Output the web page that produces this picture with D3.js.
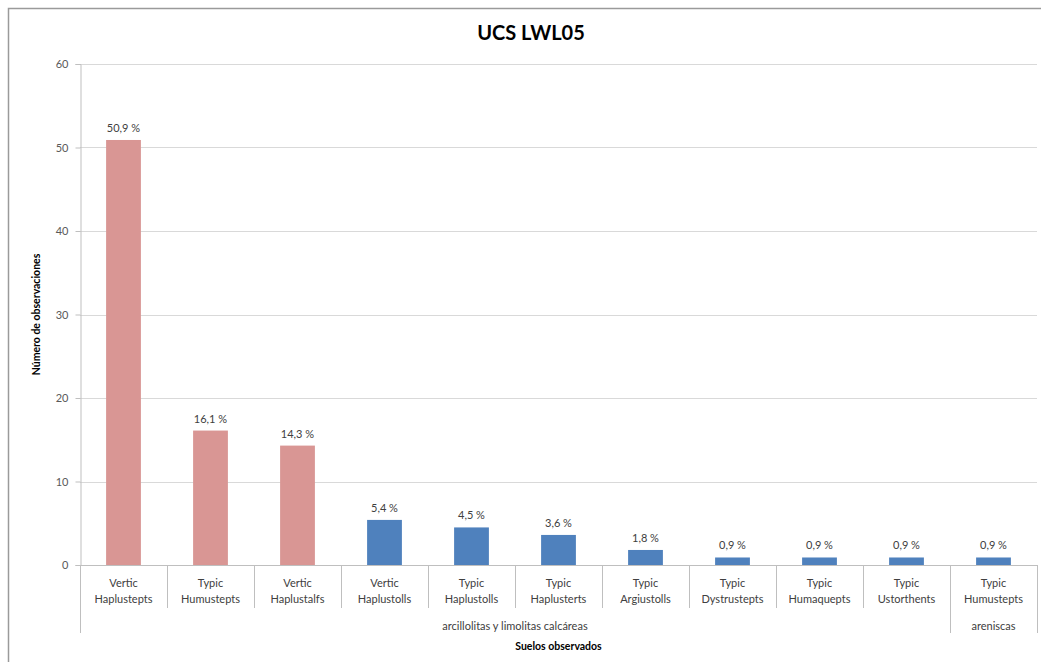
<!DOCTYPE html>
<html>
<head>
<meta charset="utf-8">
<script src="https://cdn.jsdelivr.net/npm/d3@7"></script>
<style>
  html, body { margin: 0; padding: 0; background: #fff; }
  svg { display: block; font-family: Lato, "Open Sans", sans-serif; }
</style>
</head>
<body>
<svg id="chart" width="1041" height="662"></svg>
<script>
// ---- data ----
const title = "UCS LWL05";
const categories = [
  "Vertic Haplustepts", "Typic Humustepts", "Vertic Haplustalfs", "Vertic Haplustolls",
  "Typic Haplustolls", "Typic Haplusterts", "Typic Argiustolls", "Typic Dystrustepts",
  "Typic Humaquepts", "Typic Ustorthents", "Typic Humustepts"
];
const values = [50.9, 16.1, 14.3, 5.4, 4.5, 3.6, 1.8, 0.9, 0.9, 0.9, 0.9];
const highlighted = [true, true, true, false, false, false, false, false, false, false, false];
const groupNames = ["arcillolitas y limolitas calcáreas", "areniscas"];
const categoryGroup = [0, 0, 0, 0, 0, 0, 0, 0, 0, 0, 1];
const yTicks = [0, 10, 20, 30, 40, 50, 60];
const yTitle = "Número de observaciones";
const xTitle = "Suelos observados";

(function () {
// ---- layout ----
const svg = d3.select("#chart");
const pLeft = 80, pRight = 1037, pTop = 64, pBottom = 565;
const idx = d3.range(categories.length);
const x = d3.scaleBand().domain(idx).range([pLeft, pRight]).paddingInner(0.6).paddingOuter(0.3);
const xb = d3.scaleBand().domain(idx).range([pLeft, pRight]).padding(0);
const y = d3.scaleLinear().domain([0, 60]).range([pBottom, pTop]);

// outer border
svg.append("rect").attr("x", 8.5).attr("y", 8.5).attr("width", 1040).attr("height", 660)
  .attr("fill", "#fff").attr("stroke", "#9a9a9a").attr("stroke-width", 1.5);

// title
svg.append("text").attr("x", 531).attr("y", 40).attr("text-anchor", "middle")
  .attr("font-size", 20).attr("font-weight", "bold").attr("fill", "#000").text(title);

// gridlines
svg.append("g").selectAll("line").data(yTicks.filter(d => d > 0)).join("line")
  .attr("x1", pLeft).attr("x2", pRight)
  .attr("y1", d => Math.round(y(d)) + 0.5).attr("y2", d => Math.round(y(d)) + 0.5)
  .attr("stroke", "#d9d9d9").attr("stroke-width", 1.2);

// y axis
const yAxis = svg.append("g").attr("transform", `translate(${pLeft + 0.5},0)`)
  .call(d3.axisLeft(y).tickValues(yTicks).tickSize(5).tickPadding(7));
yAxis.select(".domain").attr("stroke", "#bfbfbf");
yAxis.selectAll(".tick line").attr("stroke", "#bfbfbf");
yAxis.selectAll(".tick text").attr("fill", "#595959").attr("font-size", 11)
  .attr("font-family", "Lato, sans-serif");

// y title
svg.append("text").attr("transform", `translate(40,${(pTop + pBottom) / 2}) rotate(-90)`)
  .attr("text-anchor", "middle").attr("font-size", 10.5).attr("font-weight", "bold")
  .attr("fill", "#000").text(yTitle);

// bars
svg.append("g").selectAll("rect").data(idx).join("rect")
  .attr("x", i => x(i)).attr("width", x.bandwidth())
  .attr("y", i => y(values[i])).attr("height", i => y(0) - y(values[i]))
  .attr("fill", i => highlighted[i] ? "#d99694" : "#4f81bd");

// data labels
svg.append("g").selectAll("text").data(idx).join("text")
  .attr("x", i => x(i) + x.bandwidth() / 2).attr("y", i => y(values[i]) - 8)
  .attr("text-anchor", "middle").attr("font-size", 11).attr("fill", "#404040")
  .text(i => values[i].toFixed(1).replace(".", ",") + " %");

// x baseline
svg.append("line").attr("x1", pLeft).attr("x2", pRight)
  .attr("y1", Math.round(y(0)) + 0.5).attr("y2", Math.round(y(0)) + 0.5)
  .attr("stroke", "#bfbfbf").attr("stroke-width", 1.2);

// category separators
const base = Math.round(y(0));
const bounds = idx.map(i => xb(i)).concat([pRight]);
svg.append("g").selectAll("line").data(bounds).join("line")
  .attr("x1", d => Math.round(d) + 0.5).attr("x2", d => Math.round(d) + 0.5)
  .attr("y1", base).attr("y2", (d, k) => {
    const isGroupEdge = k === 0 || k === bounds.length - 1 || categoryGroup[k] !== categoryGroup[k - 1];
    return isGroupEdge ? 633 : 608;
  })
  .attr("stroke", "#bfbfbf").attr("stroke-width", 1);

// category labels
const catG = svg.append("g");
idx.forEach(i => {
  const parts = categories[i].split(" ");
  const cx = xb(i) + xb.bandwidth() / 2;
  const t = catG.append("text").attr("text-anchor", "middle").attr("font-size", 11).attr("fill", "#404040");
  t.append("tspan").attr("x", cx).attr("y", 587).text(parts[0]);
  t.append("tspan").attr("x", cx).attr("y", 603).text(parts.slice(1).join(" "));
});

// group labels
groupNames.forEach((g, gi) => {
  const members = idx.filter(i => categoryGroup[i] === gi);
  const x0 = xb(members[0]), x1 = xb(members[members.length - 1]) + xb.bandwidth();
  svg.append("text").attr("x", (x0 + x1) / 2).attr("y", 630).attr("text-anchor", "middle")
    .attr("font-size", 11).attr("fill", "#404040").text(g);
});

// x title
svg.append("text").attr("x", (pLeft + pRight) / 2).attr("y", 650).attr("text-anchor", "middle")
  .attr("font-size", 10.5).attr("font-weight", "bold").attr("fill", "#000").text(xTitle);
})();
</script>
</body>
</html>
